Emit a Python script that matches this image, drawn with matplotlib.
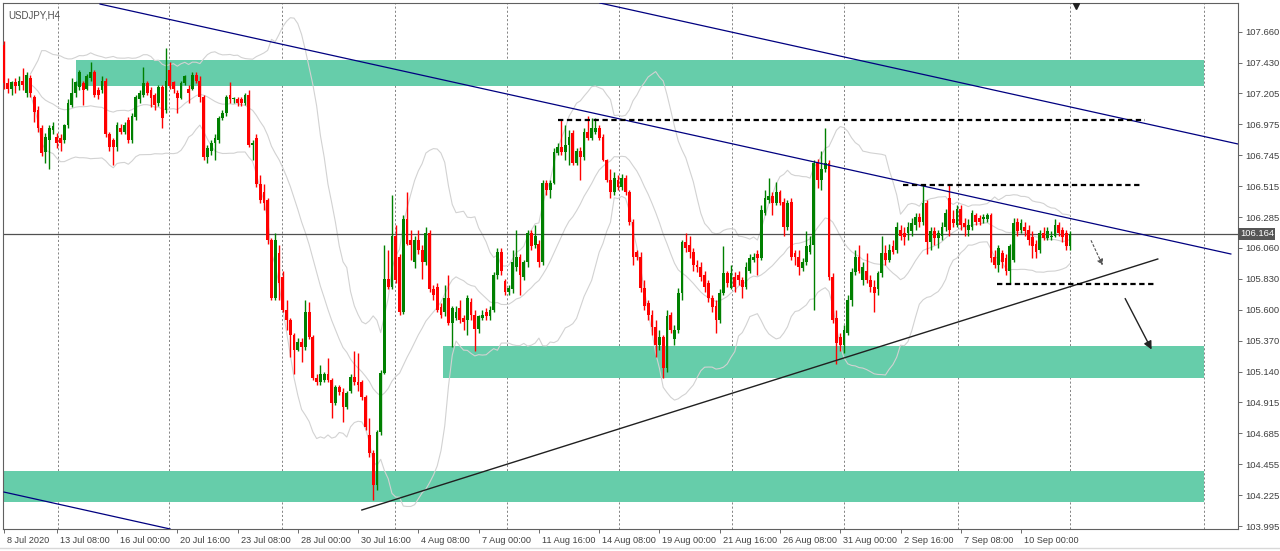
import matplotlib.pyplot as plt
import matplotlib.transforms as mtransforms
import numpy as np
import pandas as pd

plt.rcParams['font.family'] = ['Liberation Sans', 'DejaVu Sans']

# Velas USDJPY H4 (apertura, maximo, minimo, cierre)
opens = [
    107.56, 107.28, 107.24, 107.29, 107.26, 107.30, 107.21, 107.32, 107.18, 107.08,
    106.95, 106.77, 106.86, 106.93, 106.88, 106.87, 106.86, 106.97, 107.12, 107.21,
    107.25, 107.28, 107.24, 107.32, 107.36, 107.23, 107.23, 107.30, 106.90, 106.86,
    106.81, 106.95, 106.92, 107.01, 106.86, 107.03, 107.16, 107.19, 107.28, 107.23,
    107.19, 107.13, 107.25, 107.08, 107.38, 107.29, 107.21, 107.17, 107.28, 107.24,
    107.24, 107.34, 107.30, 107.18, 106.73, 106.78, 106.84, 106.86, 107.02, 107.06,
    107.19, 107.16, 107.16, 107.16, 107.13, 107.19, 106.82, 106.87, 106.53, 106.47,
    106.41, 106.12, 105.69, 106.02, 105.84, 105.60, 105.52, 105.41, 105.30, 105.36,
    105.32, 105.58, 105.40, 105.09, 105.06, 105.08, 105.12, 105.08, 104.91, 105.03,
    104.99, 104.88, 105.00, 105.10, 105.06, 105.06, 104.95, 104.67, 104.54, 104.30,
    104.69, 105.13, 105.83, 105.77, 106.15, 105.99, 105.58, 106.27, 106.12, 105.95,
    106.12, 106.04, 105.95, 106.17, 105.75, 105.77, 105.62, 105.58, 105.69, 105.50,
    105.54, 105.61, 105.54, 105.52, 105.66, 105.56, 105.46, 105.54, 105.58, 105.55,
    105.60, 105.86, 106.03, 105.81, 105.73, 105.75, 105.92, 105.99, 105.84, 105.95,
    106.17, 106.08, 106.09, 105.95, 106.54, 106.49, 106.54, 106.76, 106.81, 106.77,
    106.82, 106.91, 106.69, 106.78, 106.73, 106.92, 106.87, 106.92, 106.95, 106.88,
    106.71, 106.56, 106.47, 106.56, 106.51, 106.58, 106.47, 106.25, 106.03, 105.99,
    105.76, 105.65, 105.56, 105.47, 105.34, 105.40, 105.17, 105.56, 105.38, 105.45,
    105.72, 106.10, 106.08, 106.03, 105.93, 105.92, 105.86, 105.80, 105.69, 105.63,
    105.52, 105.72, 105.87, 105.76, 105.84, 105.86, 105.82, 105.77, 105.89, 105.97,
    106.01, 105.98, 106.32, 106.41, 106.44, 106.39, 106.47, 106.40, 106.21, 106.40,
    106.02, 105.99, 105.91, 105.95, 106.03, 106.08, 106.69, 106.56, 106.64, 106.69,
    105.84, 105.54, 105.40, 105.34, 105.43, 105.67, 105.88, 105.99, 105.82, 105.89,
    105.82, 105.77, 105.75, 105.87, 106.02, 105.97, 106.07, 106.04, 106.19, 106.17,
    106.17, 106.18, 106.23, 106.29, 106.25, 106.39, 106.10, 106.18, 106.13, 106.15,
    106.21, 106.43, 106.27, 106.23, 106.35, 106.24, 106.19, 106.21, 106.30, 106.28,
    106.27, 106.27, 106.30, 105.99, 105.93, 106.02, 105.98, 105.89, 105.97, 106.25,
    106.19, 106.21, 106.19, 106.14, 106.09, 106.04, 106.17, 106.13, 106.14, 106.15,
    106.23, 106.19, 106.17, 106.07,
]
highs = [
    107.59, 107.32, 107.30, 107.32, 107.33, 107.39, 107.36, 107.34, 107.19, 107.11,
    106.97, 106.91, 106.97, 106.99, 106.91, 106.90, 106.98, 107.16, 107.32, 107.30,
    107.38, 107.30, 107.35, 107.44, 107.38, 107.25, 107.33, 107.32, 106.92, 106.87,
    106.99, 106.98, 106.99, 107.03, 107.06, 107.19, 107.23, 107.40, 107.30, 107.25,
    107.21, 107.27, 107.27, 107.54, 107.44, 107.30, 107.23, 107.30, 107.34, 107.27,
    107.36, 107.36, 107.33, 107.19, 106.82, 106.86, 106.90, 107.04, 107.08, 107.19,
    107.29, 107.18, 107.18, 107.18, 107.21, 107.23, 106.86, 106.90, 106.60, 106.53,
    106.43, 106.13, 106.17, 106.08, 105.89, 105.67, 105.54, 105.43, 105.39, 105.39,
    105.67, 105.66, 105.41, 105.12, 105.19, 105.14, 105.24, 105.09, 105.04, 105.04,
    105.02, 105.00, 105.12, 105.29, 105.28, 105.08, 104.97, 104.80, 104.56, 104.71,
    105.15, 106.08, 106.04, 106.45, 106.23, 106.01, 106.30, 106.47, 106.19, 106.15,
    106.19, 106.08, 106.21, 106.19, 105.78, 105.80, 105.65, 105.78, 105.86, 105.63,
    105.63, 105.67, 105.56, 105.71, 105.69, 105.60, 105.56, 105.60, 105.61, 105.63,
    105.88, 106.06, 106.06, 105.83, 105.78, 106.04, 106.19, 106.01, 105.97, 106.19,
    106.19, 106.23, 106.12, 106.56, 106.56, 106.56, 106.80, 106.84, 107.01, 106.97,
    106.93, 106.93, 106.80, 106.81, 106.95, 107.04, 107.02, 107.02, 106.97, 106.90,
    106.72, 106.64, 106.62, 106.60, 106.61, 106.60, 106.49, 106.27, 106.04, 106.03,
    105.82, 105.67, 105.60, 105.52, 105.45, 105.41, 105.60, 105.58, 105.49, 105.76,
    106.12, 106.17, 106.15, 106.06, 105.97, 105.95, 105.89, 105.82, 105.71, 105.67,
    105.75, 106.07, 105.89, 105.93, 105.88, 105.89, 105.84, 105.95, 106.01, 106.02,
    106.04, 106.38, 106.49, 106.58, 106.47, 106.55, 106.49, 106.43, 106.41, 106.43,
    106.04, 106.04, 105.98, 106.18, 106.15, 106.71, 106.72, 106.78, 106.95, 106.71,
    105.87, 105.60, 105.43, 105.49, 105.71, 105.91, 106.04, 106.08, 105.95, 106.02,
    105.86, 105.82, 105.89, 106.15, 106.08, 106.09, 106.12, 106.25, 106.23, 106.21,
    106.25, 106.28, 106.32, 106.32, 106.53, 106.41, 106.21, 106.21, 106.19, 106.25,
    106.35, 106.53, 106.34, 106.38, 106.38, 106.28, 106.27, 106.34, 106.32, 106.30,
    106.31, 106.32, 106.32, 106.04, 106.08, 106.04, 106.01, 106.09, 106.28, 106.28,
    106.27, 106.25, 106.23, 106.18, 106.12, 106.19, 106.21, 106.21, 106.18, 106.27,
    106.25, 106.21, 106.19, 106.18,
]
lows = [
    107.24, 107.21, 107.19, 107.21, 107.23, 107.23, 107.18, 107.18, 106.99, 106.92,
    106.74, 106.69, 106.64, 106.90, 106.80, 106.78, 106.84, 106.95, 107.10, 107.18,
    107.23, 107.12, 107.23, 107.30, 107.18, 107.16, 107.21, 106.88, 106.78, 106.67,
    106.78, 106.90, 106.90, 106.84, 106.84, 107.01, 107.13, 107.18, 107.19, 107.10,
    107.08, 107.11, 106.95, 107.06, 107.24, 107.21, 107.06, 107.16, 107.27, 107.13,
    107.23, 107.28, 107.14, 106.71, 106.69, 106.75, 106.71, 106.84, 107.01, 107.04,
    107.13, 107.13, 107.11, 107.11, 107.12, 106.81, 106.71, 106.51, 106.39, 106.34,
    106.09, 105.67, 105.67, 105.67, 105.58, 105.45, 105.25, 105.12, 105.29, 105.21,
    105.30, 105.38, 105.08, 105.04, 105.04, 105.06, 105.06, 104.80, 104.89, 104.97,
    104.77, 104.86, 104.98, 105.04, 105.00, 104.93, 104.71, 104.51, 104.19, 104.26,
    104.67, 105.12, 105.75, 105.75, 105.80, 105.56, 105.57, 106.08, 105.97, 105.91,
    106.01, 105.83, 105.93, 105.73, 105.67, 105.58, 105.54, 105.55, 105.49, 105.32,
    105.52, 105.50, 105.45, 105.41, 105.52, 105.29, 105.43, 105.52, 105.52, 105.52,
    105.58, 105.83, 105.86, 105.71, 105.71, 105.72, 105.89, 105.71, 105.82, 105.92,
    106.04, 106.06, 105.92, 105.93, 106.45, 106.43, 106.53, 106.75, 106.75, 106.71,
    106.67, 106.67, 106.67, 106.56, 106.71, 106.86, 106.86, 106.90, 106.86, 106.70,
    106.55, 106.43, 106.45, 106.49, 106.49, 106.45, 106.23, 105.93, 105.97, 105.73,
    105.60, 105.52, 105.41, 105.25, 105.30, 105.09, 105.14, 105.43, 105.34, 105.43,
    105.67, 106.03, 105.98, 105.89, 105.88, 105.81, 105.73, 105.66, 105.58, 105.43,
    105.50, 105.71, 105.77, 105.75, 105.73, 105.78, 105.69, 105.75, 105.87, 105.95,
    105.86, 105.97, 106.30, 106.39, 106.30, 106.38, 106.38, 106.15, 106.19, 105.97,
    105.93, 105.86, 105.89, 105.93, 106.01, 105.60, 106.50, 106.49, 106.62, 105.82,
    105.50, 105.20, 105.29, 105.28, 105.41, 105.63, 105.86, 105.87, 105.78, 105.80,
    105.73, 105.58, 105.71, 105.84, 105.93, 105.95, 106.01, 106.02, 106.12, 106.08,
    106.12, 106.15, 106.19, 106.21, 106.23, 106.01, 106.04, 106.08, 106.06, 106.12,
    106.18, 106.15, 106.21, 106.21, 106.19, 106.15, 106.15, 106.19, 106.23, 106.23,
    106.24, 106.25, 105.95, 105.91, 105.88, 105.91, 105.86, 105.80, 105.95, 106.15,
    106.17, 106.15, 106.08, 105.98, 105.98, 106.02, 106.12, 106.12, 106.12, 106.14,
    106.15, 106.10, 106.04, 106.04,
]
closes = [
    107.28, 107.24, 107.29, 107.26, 107.30, 107.27, 107.34, 107.21, 107.07, 106.95,
    106.76, 106.88, 106.95, 106.96, 106.84, 106.84, 106.97, 107.13, 107.21, 107.29,
    107.36, 107.23, 107.33, 107.36, 107.19, 107.19, 107.30, 106.90, 106.81, 106.81,
    106.97, 106.92, 106.97, 106.86, 107.04, 107.18, 107.21, 107.28, 107.21, 107.17,
    107.12, 107.25, 107.02, 107.30, 107.26, 107.24, 107.17, 107.28, 107.33, 107.21,
    107.34, 107.30, 107.18, 106.73, 106.80, 106.84, 106.87, 107.02, 107.06, 107.18,
    107.16, 107.17, 107.13, 107.13, 107.19, 106.82, 106.84, 106.53, 106.41, 106.39,
    106.12, 105.69, 106.12, 105.80, 105.60, 105.52, 105.41, 105.30, 105.36, 105.32,
    105.58, 105.40, 105.09, 105.06, 105.12, 105.12, 105.08, 104.91, 105.03, 104.99,
    104.88, 104.98, 105.10, 105.06, 105.04, 104.95, 104.73, 104.54, 104.30, 104.69,
    105.13, 105.83, 105.77, 106.15, 105.82, 105.58, 106.27, 106.09, 106.08, 106.12,
    106.04, 105.95, 106.17, 105.75, 105.71, 105.60, 105.56, 105.69, 105.50, 105.61,
    105.58, 105.52, 105.51, 105.69, 105.56, 105.46, 105.55, 105.56, 105.55, 105.60,
    105.86, 106.03, 105.89, 105.73, 105.76, 105.95, 105.99, 105.86, 105.95, 106.17,
    106.07, 106.15, 105.95, 106.54, 106.49, 106.54, 106.77, 106.81, 106.77, 106.82,
    106.88, 106.69, 106.78, 106.73, 106.92, 106.87, 106.95, 106.95, 106.87, 106.71,
    106.56, 106.47, 106.58, 106.51, 106.58, 106.47, 106.25, 105.99, 105.99, 105.76,
    105.63, 105.56, 105.47, 105.34, 105.40, 105.17, 105.55, 105.45, 105.45, 105.72,
    106.10, 106.06, 106.03, 105.93, 105.92, 105.84, 105.77, 105.69, 105.62, 105.52,
    105.72, 105.87, 105.80, 105.87, 105.77, 105.82, 105.77, 105.92, 105.98, 105.99,
    105.98, 106.34, 106.43, 106.44, 106.39, 106.47, 106.39, 106.21, 106.39, 105.99,
    105.99, 105.92, 105.95, 106.07, 106.08, 106.69, 106.56, 106.64, 106.69, 105.84,
    105.52, 105.35, 105.34, 105.45, 105.67, 105.88, 105.99, 105.89, 105.92, 105.82,
    105.77, 105.72, 105.87, 106.02, 105.97, 106.04, 106.03, 106.21, 106.15, 106.14,
    106.21, 106.24, 106.29, 106.25, 106.39, 106.10, 106.18, 106.13, 106.17, 106.21,
    106.32, 106.19, 106.24, 106.35, 106.23, 106.21, 106.23, 106.32, 106.25, 106.25,
    106.29, 106.30, 105.98, 105.93, 106.06, 105.95, 105.89, 106.07, 106.24, 106.18,
    106.24, 106.18, 106.12, 106.07, 106.03, 106.17, 106.13, 106.18, 106.15, 106.23,
    106.17, 106.14, 106.07, 106.16,
]

time_labels = ["8 Jul 2020", "13 Jul 08:00", "16 Jul 00:00", "20 Jul 16:00", "23 Jul 08:00",
               "28 Jul 00:00", "30 Jul 16:00", "4 Aug 08:00", "7 Aug 00:00", "11 Aug 16:00",
               "14 Aug 08:00", "19 Aug 00:00", "21 Aug 16:00", "26 Aug 08:00", "31 Aug 00:00",
               "2 Sep 16:00", "7 Sep 08:00", "10 Sep 00:00"]
label_bars = [0, 14, 30, 46, 62, 78, 94, 110, 126, 142, 158, 174, 190, 206, 222, 238, 254, 270]
price_ticks = [107.660, 107.430, 107.205, 106.975, 106.745, 106.515, 106.285, 106.060, 105.830,
               105.600, 105.370, 105.140, 104.915, 104.685, 104.455, 104.225, 103.995]
precio_actual = 106.164

# zonas de soporte/resistencia: (desde, hasta, precio bajo, precio alto)
zonas = [(19.1, 318.6, 107.259, 107.452),
         (116.5, 318.6, 105.093, 105.330),
         (-0.3, 318.6, 104.173, 104.403)]
# lineas del canal y de tendencia: ((x0, p0), (x1, p1))
canal = [((25.5, 107.867), (325.7, 106.013)),
         ((158.2, 107.875), (327.6, 106.829)),
         ((0.0, 104.247), (44.1, 103.973))]
tendencia = ((95.0, 104.114), (306.3, 105.976))
niveles = [(147.1, 302.9, 107.007), (238.7, 302.4, 106.525), (263.6, 305.6, 105.790)]
separadores = [14.2, 43.9, 73.8, 103.8, 133.6, 163.3, 193.3, 223.0, 253.2, 283.0, 318.6]

o = np.array(opens); h = np.array(highs); l = np.array(lows); c = np.array(closes)
x = np.arange(len(c))

fig = plt.figure(figsize=(12.8, 5.51), dpi=100)
ax = fig.add_axes([3 / 1280, 22 / 551, 1235 / 1280, 526 / 551])

for g in separadores:
    ax.axvline(g, color='#707070', lw=0.6, ls=(0, (2.5, 2.5)), zorder=0.5)

for x0, x1, p0, p1 in zonas:
    ax.fill_between([x0, x1], p0, p1, color='#66cdaa', lw=0, zorder=1)

# bandas de Bollinger (20, 2)
s = pd.Series(closes)
media = s.rolling(20, min_periods=8).mean()
desv = s.rolling(20, min_periods=8).std(ddof=0)
for serie in (media + 2 * desv, media, media - 2 * desv):
    ax.plot(x, serie, color='#d2d2d2', lw=0.8, zorder=2)

ax.axhline(precio_actual, color='#505050', lw=0.9, zorder=2.5)

colores = np.where(c >= o, '#008000', '#ff0000')
ax.vlines(x, l, h, colors=colores, lw=1.0, zorder=3)
ax.bar(x, np.maximum(np.abs(c - o), 0.007), bottom=np.minimum(o, c), width=0.74,
       color=colores, lw=0, zorder=4)

for (a, b) in canal:
    ax.plot([a[0], b[0]], [a[1], b[1]], color='#000080', lw=0.9, zorder=5)
ax.plot([tendencia[0][0], tendencia[1][0]], [tendencia[0][1], tendencia[1][1]],
        color='#202020', lw=1.0, zorder=5)
for x0, x1, p in niveles:
    ax.plot([x0, x1], [p, p], color='black', lw=1.6, dashes=(2.4, 1.6), zorder=5)

ax.annotate('', xy=(292.0, 105.909), xytext=(288.3, 106.131),
            arrowprops=dict(arrowstyle='-|>', color='#555555', lw=0.8, ls=(0, (2, 2)),
                            mutation_scale=9), zorder=6)
ax.annotate('', xy=(305.0, 105.286), xytext=(297.3, 105.701),
            arrowprops=dict(arrowstyle='-|>', color='#222222', lw=1.0, mutation_scale=12), zorder=6)
ax.plot([284.6], [107.852], marker='v', color='#222222', ms=5, zorder=6)

ax.set_xlim(-0.27, 327.6)
ax.set_ylim(103.973, 107.875)

ax.yaxis.tick_right()
ax.set_yticks(price_ticks)
ax.set_yticklabels([f'{v:.3f}' for v in price_ticks])
ax.tick_params(axis='y', length=3, width=0.6, colors='#555555', labelsize=6.8, pad=2,
               labelcolor='#404040')

ax.set_xticks(label_bars)
ax.set_xticklabels(time_labels)
ax.tick_params(axis='x', length=3, width=0.6, colors='#555555', labelsize=6.6, pad=2,
               labelcolor='#404040')
desplaza = mtransforms.ScaledTranslation(3 / 100, 0, fig.dpi_scale_trans)
for lbl in ax.get_xticklabels():
    lbl.set_horizontalalignment('left')
    lbl.set_transform(lbl.get_transform() + desplaza)

for sp in ax.spines.values():
    sp.set_color('#606060')
    sp.set_linewidth(0.8)

ax.text(0.004, 0.985, 'USDJPY,H4', transform=ax.transAxes, fontsize=7, color='#505050',
        va='top', ha='left')

tr = mtransforms.blended_transform_factory(ax.transAxes, ax.transData)
ax.text(1.0015, precio_actual, f'{precio_actual:.3f}', transform=tr, fontsize=6.8, color='white',
        va='center', ha='left',
        bbox=dict(boxstyle='square,pad=0.15', facecolor='#555555', edgecolor='none'))

fig.add_artist(plt.Line2D([0, 1], [3 / 551, 3 / 551], color='#d8d8d8', lw=1))

fig.savefig('out.png', dpi=100, facecolor='white')
